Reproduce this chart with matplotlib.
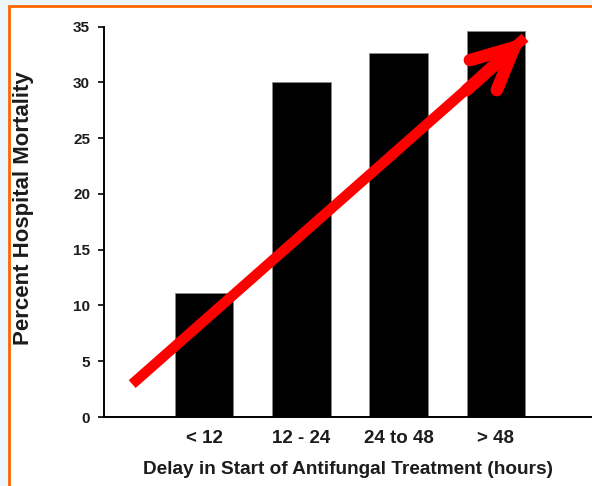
import numpy as np
import matplotlib
matplotlib.use("Agg")
import matplotlib.pyplot as plt
from matplotlib.patches import Rectangle

plt.rcParams['font.family'] = ['Liberation Sans', 'DejaVu Sans']

# Data
categories = ["< 12", "12 - 24", "24 to 48", "> 48"]
mortality = [11.1, 30.0, 32.6, 34.6]
y_ticks = [0, 5, 10, 15, 20, 25, 30, 35]

# Red trend arrow (data coordinates)
arrow_start = (-0.74, 2.95)
arrow_tip = (3.30, 34.0)

W, H = 592, 486
TXT = "#1c1c1c"
RED = "#ff0000"

fig = plt.figure(figsize=(W / 100, H / 100), dpi=100, facecolor="#ebf6fd")

# white panel with orange border (left + top)
panel = Rectangle((9 / W, -0.05), 1.1, 1 - 6 / H + 0.05, transform=fig.transFigure,
                  facecolor="white", edgecolor="#ff6600", linewidth=2.0, zorder=-5)
fig.patches.append(panel)

ax = fig.add_axes([104 / W, 1 - 417 / H, 1 - 104 / W + 0.01, (417 - 26.5) / H])
ax.set_facecolor("none")
ax.set_zorder(2)

x = np.arange(len(categories))
ax.bar(x, mortality, width=0.6, color="black", edgecolor="#888888", linewidth=0.6, zorder=2)

ax.set_xlim(-1.03, 4.05)
ax.set_ylim(0, 35)
ax.set_yticks(y_ticks)
ax.set_yticklabels([str(t) for t in y_ticks], fontsize=11, fontweight="bold", color=TXT)
ax.set_xticks(x)
ax.set_xticklabels(categories, fontsize=13.5, fontweight="bold", color=TXT)
ax.tick_params(axis="x", length=0, pad=9)
ax.tick_params(axis="y", length=4, width=1.2, pad=6, direction="out")

for side in ["top", "right"]:
    ax.spines[side].set_visible(False)
ax.spines["left"].set_linewidth(1.4)
ax.spines["bottom"].set_linewidth(1.4)

ax_w = W - 104 + 0.01 * W
ax.set_xlabel("Delay in Start of Antifungal Treatment (hours)", fontsize=13.7,
              fontweight="bold", color=TXT)
ax.set_ylabel("Percent Hospital Mortality", fontsize=16, fontweight="bold", color=TXT)
ax.xaxis.set_label_coords((348 - 104) / ax_w, -0.113)
ax.yaxis.set_label_coords((34 - 104) / ax_w, (417 - 208) / 390.5)

# shaft (square start) + open chevron head (rounded ends)
ax.annotate("", xy=arrow_tip, xytext=arrow_start,
            arrowprops=dict(arrowstyle="-", color=RED, lw=7.5, shrinkA=0, shrinkB=0,
                            capstyle="butt"),
            zorder=5, annotation_clip=False)
head_from = (arrow_tip[0] - 0.6, arrow_tip[1] - 4.7)
ax.annotate("", xy=arrow_tip, xytext=head_from,
            arrowprops=dict(arrowstyle="->,head_length=3.0,head_width=1.45", color=RED,
                            lw=9, shrinkA=0, shrinkB=0, mutation_scale=10,
                            capstyle="round", joinstyle="round"),
            zorder=5, annotation_clip=False)

fig.savefig("out.png", dpi=100, facecolor=fig.get_facecolor())
